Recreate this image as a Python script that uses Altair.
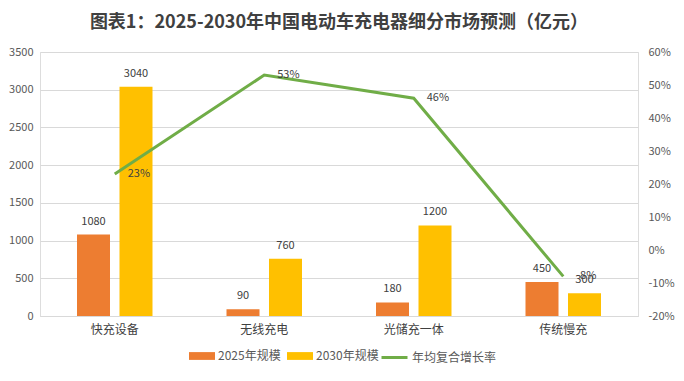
import altair as alt
import pandas as pd

categories = ["快充设备", "无线充电", "光储充一体", "传统慢充"]
series = ["2025年规模", "2030年规模"]
size_2025 = [1080, 90, 180, 450]
size_2030 = [3040, 760, 1200, 300]
cagr = [23, 53, 46, -8]
line_name = "年均复合增长率"
left_ticks = [0, 500, 1000, 1500, 2000, 2500, 3000, 3500]
right_ticks = [-20, -10, 0, 10, 20, 30, 40, 50, 60]

FONT = "Noto Sans CJK SC"

bars_df = pd.DataFrame({
    "category": categories * 2,
    "series": [series[0]] * len(categories) + [series[1]] * len(categories),
    "value": size_2025 + size_2030,
})
growth_df = pd.DataFrame({
    "category": categories,
    "cagr": cagr,
    "label": [f"{v}%" for v in cagr],
    "name": [line_name] * len(categories),
})

x_enc = alt.X(
    "category:N", sort=categories,
    scale=alt.Scale(paddingInner=0.495, paddingOuter=0.2475),
    axis=alt.Axis(title=None, labelAngle=0, labelFontSize=12, labelColor="#404040",
                  domainColor="#d9d9d9", ticks=False, labelPadding=8, labelFont=FONT),
)
xoff_enc = alt.XOffset("series:N", sort=series,
                       scale=alt.Scale(paddingInner=0.2235, paddingOuter=0))
y_left = alt.Y(
    "value:Q", scale=alt.Scale(domain=[0, 3500], nice=False),
    axis=alt.Axis(values=left_ticks, format="d", title=None, gridColor="#d9d9d9",
                  domain=False, ticks=False, labelColor="#595959", labelFontSize=11,
                  labelPadding=7, labelFont=FONT, labelOverlap=False),
)
y_right = alt.Y(
    "cagr:Q", scale=alt.Scale(domain=[-20, 60], nice=False),
    axis=alt.Axis(orient="right", values=right_ticks, labelExpr="datum.value + '%'",
                  title=None, grid=False, domain=False, ticks=False, labelAlign="left",
                  labelColor="#595959", labelFontSize=11, labelPadding=10, labelFont=FONT,
                  labelOverlap=False),
)

bar = alt.Chart(bars_df).mark_bar().encode(
    x=x_enc,
    xOffset=xoff_enc,
    y=y_left,
    fill=alt.Fill(
        "series:N",
        scale=alt.Scale(domain=series, range=["#ED7D31", "#FFC000"]),
        legend=alt.Legend(
            title=None, orient="none", legendX=149, legendY=291, direction="horizontal",
            symbolType="M-1,-0.3H1V0.3H-1Z", symbolSize=676, symbolStrokeWidth=0,
            labelFontSize=12, labelColor="#595959", labelFont=FONT,
            columnPadding=6, labelOffset=3,
        ),
    ),
)
bar_text = alt.Chart(bars_df).mark_text(
    baseline="bottom", dy=-8, fontSize=11, color="#404040", font=FONT
).encode(
    x=x_enc, xOffset=xoff_enc, y=y_left, text=alt.Text("value:Q")
)

line = alt.Chart(growth_df).mark_line(strokeWidth=3).encode(
    x=x_enc,
    y=y_right,
    stroke=alt.Stroke(
        "name:N", scale=alt.Scale(domain=[line_name], range=["#70AD47"]),
        legend=alt.Legend(
            title=None, orient="none", legendX=340, legendY=291, direction="horizontal",
            symbolType="stroke", symbolSize=676, symbolStrokeWidth=3,
            labelFontSize=12, labelColor="#595959", labelFont=FONT, labelOffset=3,
        ),
    ),
)
line_text = alt.Chart(growth_df).mark_text(
    align="left", baseline="middle", dx=13, fontSize=11, color="#404040", font=FONT
).encode(
    x=x_enc, y=y_right, text="label:N"
)

chart = alt.layer(
    alt.layer(bar, bar_text),
    alt.layer(line, line_text),
).resolve_scale(y="independent", fill="independent", stroke="independent").properties(
    width=598, height=264,
    autosize=alt.AutoSizeParams(type="none"),
    padding={"left": 32, "top": 44, "right": 38, "bottom": 56},
    title=alt.TitleParams(
        "图表1：2025-2030年中国电动车充电器细分市场预测（亿元）",
        fontSize=18, fontWeight="bold", color="#404040", font=FONT,
        anchor="middle", offset=14,
    ),
).configure_view(stroke=None).configure(background="white")

chart.save("out.html", embed_options={"renderer": "svg", "actions": False})
